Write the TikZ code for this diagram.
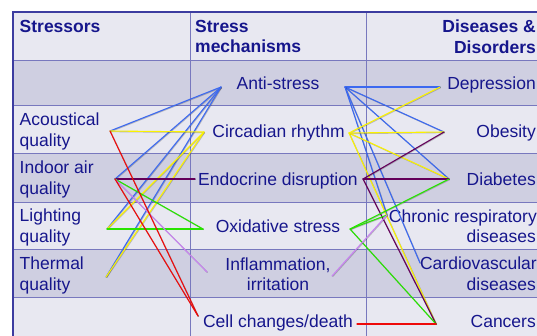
\documentclass[tikz,border=0pt]{standalone}
\usepackage{fontspec}
\setmainfont{Liberation Sans}
\definecolor{navy}{RGB}{22,22,140}
\definecolor{rowlight}{RGB}{232,232,241}
\definecolor{rowdark}{RGB}{207,207,225}
\definecolor{gridc}{RGB}{120,120,190}
\definecolor{outerc}{RGB}{60,60,160}
\definecolor{lblue}{RGB}{60,105,240}
\definecolor{lyellow}{RGB}{250,242,0}
\definecolor{lred}{RGB}{238,10,10}
\definecolor{lgreen}{RGB}{40,228,0}
\definecolor{lpurple}{RGB}{100,0,90}
\definecolor{llav}{RGB}{200,130,240}
\begin{document}
\begin{tikzpicture}[x=1pt,y=-1pt,
  txt/.style={font=\fontsize{17.5}{20.5}\selectfont, text=navy, inner sep=0pt},
  hd/.style={txt, font=\fontsize{17.5}{20.5}\selectfont\bfseries},
  link/.style={line width=1.1pt, line cap=round,
    preaction={draw=black, opacity=0.22, line width=1.1pt,
      transform canvas={shift={(0.6pt,-0.6pt)}}}},
  gridline/.style={draw=gridc, line width=1pt}]
\useasboundingbox (0,0) rectangle (537,335);
% row backgrounds
\fill[rowlight] (13,12) rectangle (545,60);
\fill[rowdark]  (13,60) rectangle (545,105);
\fill[rowlight] (13,105) rectangle (545,153);
\fill[rowdark]  (13,153) rectangle (545,202);
\fill[rowlight] (13,202) rectangle (545,249);
\fill[rowdark]  (13,249) rectangle (545,297);
\fill[rowlight] (13,297) rectangle (545,345);
% grid
\foreach \yy in {60,105,153,202,249,297} \draw[gridline] (13,\yy) -- (545,\yy);
\draw[gridline] (190,12) -- (190,345);
\draw[gridline] (366,12) -- (366,345);
\draw[outerc, line width=1.3pt] (13,345) -- (13,12) -- (545,12);
% header
\node[hd, anchor=base west] (hs) at (19.5,32) {Stressors};
\node[hd, anchor=base west] (hm1) at (195,32) {Stress};
\node[hd, anchor=base west] (hm2) at (195,52.5) {mechanisms};
\node[hd, anchor=base east] (hd1) at (536,32) {Diseases \&};
\node[hd, anchor=base east] (hd2) at (536,53) {Disorders};
% stressors
\node[txt, anchor=base west] (s1a) at (19.5,125) {Acoustical};
\node[txt, anchor=base west] (s1b) at (19.5,146) {quality};
\node[txt, anchor=base west] (s2a) at (19.5,173.5) {Indoor air};
\node[txt, anchor=base west] (s2b) at (19.5,194.5) {quality};
\node[txt, anchor=base west] (s3a) at (19.5,221) {Lighting};
\node[txt, anchor=base west] (s3b) at (19.5,242) {quality};
\node[txt, anchor=base west] (s4a) at (19.5,269) {Thermal};
\node[txt, anchor=base west] (s4b) at (19.5,290) {quality};
% mechanisms
\node[txt, anchor=base] (m1) at (278,89) {Anti-stress};
\node[txt, anchor=base] (m2) at (278.5,137) {Circadian rhythm};
\node[txt, anchor=base] (m3) at (278,185) {Endocrine disruption};
\node[txt, anchor=base] (m4) at (278,232) {Oxidative stress};
\node[txt, anchor=base] (m5a) at (278,270) {Inflammation,};
\node[txt, anchor=base] (m5b) at (278,290.5) {irritation};
\node[txt, anchor=base] (m6) at (278,327) {Cell changes/death};
% diseases
\node[txt, anchor=base east] (d1) at (536,89) {Depression};
\node[txt, anchor=base east] (d2) at (536,137) {Obesity};
\node[txt, anchor=base east] (d3) at (536,185) {Diabetes};
\node[txt, anchor=base east] (d4a) at (537,222) {Chronic respiratory};
\node[txt, anchor=base east] (d4b) at (536,242) {diseases};
\node[txt, anchor=base east] (d5a) at (537,269) {Cardiovascular};
\node[txt, anchor=base east] (d5b) at (536,290) {diseases};
\node[txt, anchor=base east] (d6) at (536,327) {Cancers};
% attachment points
\coordinate (Ac) at (110,131);
\coordinate (In) at (115,179);
\coordinate (Li) at (107,229);
\coordinate (Th) at (106,277);
\coordinate (A1) at (221,87);   \coordinate (A2) at (345,87);
\coordinate (C1) at (204,132);  \coordinate (C2) at (349,133);
\coordinate (E1) at (195,179);  \coordinate (E2) at (363,179);
\coordinate (O1) at (203,229);  \coordinate (O2) at (350,229);
\coordinate (F1) at (207,272);  \coordinate (F2) at (332,276);
\coordinate (X1) at (198,316);  \coordinate (X2) at (357,324);
\coordinate (Dep) at (440,87);
\coordinate (Ob) at (444,132);
\coordinate (Dia) at (449,179);
\coordinate (Chr) at (387,215);
\coordinate (Car) at (420,263);
\coordinate (Can) at (436,324);
% left connectors
\draw[link, lblue] (A1) -- (Ac);
\draw[link, lblue] (A1) -- (In);
\draw[link, lblue] (A1) -- (Li);
\draw[link, lblue] (A1) -- (Th);
\draw[link, lyellow] (C1) -- (Ac);
\draw[link, lyellow] (C1) -- (Li);
\draw[link, lyellow] (C1) -- (Th);
\draw[link, lpurple] (In) -- (E1);
\draw[link, lgreen] (In) -- (O1);
\draw[link, lgreen] (Li) -- (O1);
\draw[link, llav] (In) -- (F1);
\draw[link, lred] (Ac) -- (X1);
\draw[link, lred] (In) -- (X1);
% right connectors
\draw[link, lblue] (A2) -- (Dep);
\draw[link, lblue] (A2) -- (Ob);
\draw[link, lblue] (A2) -- (Dia);
\draw[link, lblue] (A2) -- (Chr);
\draw[link, lblue] (A2) -- (Car);
\draw[link, lyellow] (C2) -- (Dep);
\draw[link, lyellow] (C2) -- (Ob);
\draw[link, lyellow] (C2) -- (Dia);
\draw[link, lyellow] (C2) -- (Can);
\draw[link, lpurple] (E2) -- (Ob);
\draw[link, lpurple] (E2) -- (Dia);
\draw[link, lpurple] (E2) -- (Can);
\draw[link, lgreen] (O2) -- (Dia);
\draw[link, lgreen] (O2) -- (Chr);
\draw[link, lgreen] (O2) -- (Can);
\draw[link, llav] (F2) -- (Chr);
\draw[link, lred] (X2) -- (Can);
\end{tikzpicture}
\end{document}
